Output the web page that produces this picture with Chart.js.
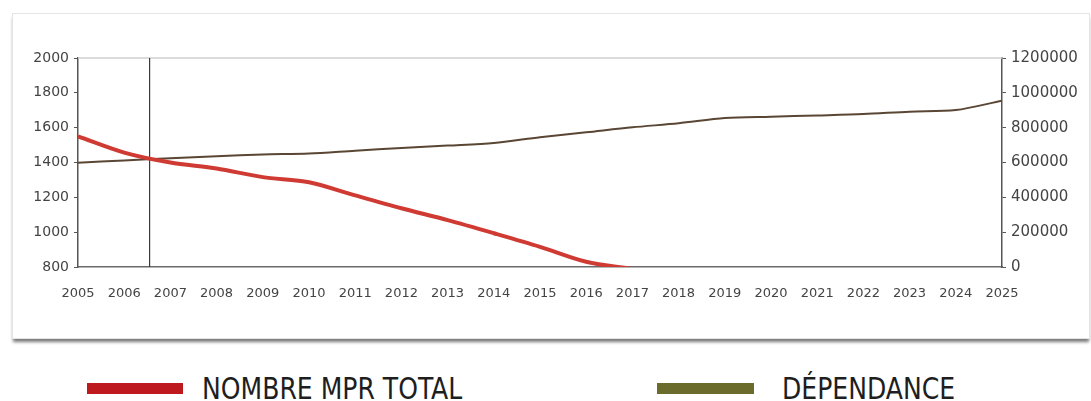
<!DOCTYPE html>
<html>
<head>
<meta charset="utf-8">
<script src="https://cdn.jsdelivr.net/npm/chart.js@4/dist/chart.umd.min.js"></script>
<style>
  body{margin:0;background:#fff;width:1091px;height:401px;overflow:hidden;position:relative;font-family:'DejaVu Sans',sans-serif;}
  .frame{position:absolute;left:12px;top:13px;width:1076px;height:324px;background:#fff;border:1px solid #e4e4e4;box-shadow:0 4px 3px -1px #7a7a7a;}
  #wrap{position:absolute;left:0;top:0;width:1091px;height:340px;}
  .leg{position:absolute;top:374px;font-family:'Liberation Sans Narrow','DejaVu Sans Condensed',sans-serif;font-size:30px;color:#1e1e1e;line-height:30px;transform:scaleX(0.93);transform-origin:0 0;}
  .sw{position:absolute;top:383px;height:11px;}
</style>
</head>
<body>
<div class="frame"></div>
<div id="wrap"><canvas id="c"></canvas></div>
<div class="sw" style="left:87px;width:96px;background:#be1a1d"></div>
<div class="leg" style="left:202px">NOMBRE MPR TOTAL</div>
<div class="sw" style="left:657px;width:97px;background:#6b6b2c"></div>
<div class="leg" style="left:782px">DÉPENDANCE</div>
<script>
// années
const years = [2005,2006,2007,2008,2009,2010,2011,2012,2013,2014,2015,2016,2017,2018,2019,2020,2021,2022,2023,2024,2025];
// nombre MPR total (axe gauche) - la courbe sort par le bas après 2016
const mprYears = [2005,2006,2007,2008,2009,2010,2011,2012,2013,2014,2015,2016,2017];
const mprTotal = [1550,1457,1400,1366,1316,1287,1211,1137,1069,994,916,830,788];
// dépendance (axe droit)
const dependance = [598000,612000,625000,636000,646000,652000,668000,683000,697000,712000,745000,773000,802000,825000,855000,863000,870000,878000,892000,901000,955000];
// repère vertical
const markerYear = 2006.55;
const leftTicks = [800,1000,1200,1400,1600,1800,2000];

const plotBox = {
  id:'plotBox',
  beforeDatasetsDraw(chart){
    const a = chart.chartArea, ctx = chart.ctx;
    ctx.save();
    ctx.strokeStyle = '#cfcfcf'; ctx.lineWidth = 1.5;
    ctx.beginPath(); ctx.moveTo(a.left, a.top); ctx.lineTo(a.right, a.top); ctx.stroke();
    ctx.restore();
  }
};

new Chart(document.getElementById('c'), {
  type:'line',
  data:{ datasets:[
    {label:'repère', data:[{x:markerYear,y:800},{x:markerYear,y:2000}], yAxisID:'y', borderColor:'#3a3a3a', borderWidth:1.2, pointRadius:0, order:3},
    {label:'Dépendance', data:years.map((y,i)=>({x:y,y:dependance[i]})), yAxisID:'y1', borderColor:'#5a4634', borderWidth:2, pointRadius:0, tension:0.3, order:2},
    {label:'Nombre MPR total', data:mprYears.map((y,i)=>({x:y,y:mprTotal[i]})), yAxisID:'y', borderColor:'#cf3a33', borderWidth:4, pointRadius:0, tension:0.3, order:1}
  ]},
  options:{
    responsive:true, maintainAspectRatio:false, animation:false,
    layout:{padding:{top:58,bottom:34,left:0,right:0}},
    plugins:{legend:{display:false}, tooltip:{enabled:false}},
    scales:{
      x:{type:'linear', min:2005, max:2025,
        grid:{display:false, drawTicks:false},
        border:{display:true, color:'#6a6a6a', width:1.5},
        ticks:{stepSize:1, padding:19, maxRotation:0, autoSkip:false, color:'#444', font:{family:'DejaVu Sans', size:13}, callback:v=>String(v)},
        afterFit:s=>{s.height=39;}
      },
      y:{position:'left', min:800, max:2000,
        afterBuildTicks:s=>{s.ticks=leftTicks.map(v=>({value:v}));},
        grid:{drawOnChartArea:false, drawTicks:true, tickLength:4, color:'#555'},
        border:{display:true, color:'#555', width:1.5},
        ticks:{padding:5, color:'#444', font:{family:'DejaVu Sans', size:14}, callback:v=>String(v)},
        afterFit:s=>{s.width=78;}
      },
      y1:{position:'right', min:0, max:1200000,
        grid:{drawOnChartArea:false, drawTicks:true, tickLength:4, color:'#555'},
        border:{display:true, color:'#555', width:1.5},
        ticks:{stepSize:200000, padding:5, color:'#444', font:{family:'DejaVu Sans', size:15}, callback:v=>String(v)},
        afterFit:s=>{s.width=89;}
      }
    }
  },
  plugins:[plotBox]
});
</script>
</body>
</html>
